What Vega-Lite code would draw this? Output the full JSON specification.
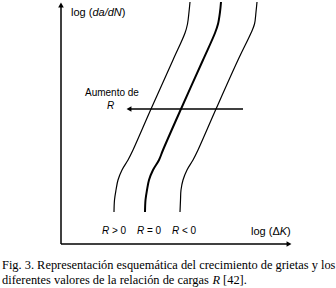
{
  "$schema": "https://vega.github.io/schema/vega-lite/v6.json",
  "width": 336,
  "height": 288,
  "autosize": {"type": "none"},
  "padding": 0,
  "background": "white",
  "config": {"view": {"stroke": null}},
  "datasets": {
    "curves": [
      {"curve": "R>0", "order": 1, "x": 190, "y": 2},
      {"curve": "R>0", "order": 2, "x": 189, "y": 12},
      {"curve": "R>0", "order": 3, "x": 187.5, "y": 24},
      {"curve": "R>0", "order": 4, "x": 185, "y": 33},
      {"curve": "R>0", "order": 5, "x": 173, "y": 60},
      {"curve": "R>0", "order": 6, "x": 151, "y": 109},
      {"curve": "R>0", "order": 7, "x": 133, "y": 150},
      {"curve": "R>0", "order": 8, "x": 128, "y": 160},
      {"curve": "R>0", "order": 9, "x": 122, "y": 170},
      {"curve": "R>0", "order": 10, "x": 118, "y": 180},
      {"curve": "R>0", "order": 11, "x": 116, "y": 190},
      {"curve": "R>0", "order": 12, "x": 114.5, "y": 200},
      {"curve": "R>0", "order": 13, "x": 114, "y": 212},
      {"curve": "R=0", "order": 1, "x": 221, "y": 2},
      {"curve": "R=0", "order": 2, "x": 220, "y": 12},
      {"curve": "R=0", "order": 3, "x": 218, "y": 24},
      {"curve": "R=0", "order": 4, "x": 215, "y": 33},
      {"curve": "R=0", "order": 5, "x": 203, "y": 60},
      {"curve": "R=0", "order": 6, "x": 181, "y": 109},
      {"curve": "R=0", "order": 7, "x": 163, "y": 150},
      {"curve": "R=0", "order": 8, "x": 159, "y": 160},
      {"curve": "R=0", "order": 9, "x": 153, "y": 170},
      {"curve": "R=0", "order": 10, "x": 149, "y": 180},
      {"curve": "R=0", "order": 11, "x": 147, "y": 190},
      {"curve": "R=0", "order": 12, "x": 145.5, "y": 200},
      {"curve": "R=0", "order": 13, "x": 145, "y": 212},
      {"curve": "R<0", "order": 1, "x": 257, "y": 2},
      {"curve": "R<0", "order": 2, "x": 256, "y": 12},
      {"curve": "R<0", "order": 3, "x": 254.5, "y": 24},
      {"curve": "R<0", "order": 4, "x": 251, "y": 33},
      {"curve": "R<0", "order": 5, "x": 238, "y": 60},
      {"curve": "R<0", "order": 6, "x": 216, "y": 109},
      {"curve": "R<0", "order": 7, "x": 198, "y": 150},
      {"curve": "R<0", "order": 8, "x": 193, "y": 160},
      {"curve": "R<0", "order": 9, "x": 187, "y": 170},
      {"curve": "R<0", "order": 10, "x": 183, "y": 180},
      {"curve": "R<0", "order": 11, "x": 181, "y": 190},
      {"curve": "R<0", "order": 12, "x": 180.5, "y": 200},
      {"curve": "R<0", "order": 13, "x": 180, "y": 212}
    ],
    "segments": [
      {"part": "yaxis", "x": 61, "y": 7, "x2": 61, "y2": 244},
      {"part": "xaxis", "x": 61, "y": 244, "x2": 287, "y2": 244},
      {"part": "arrow", "x": 243, "y": 109, "x2": 131, "y2": 109}
    ],
    "heads": [
      {"dir": "up", "x": 61, "y": 5},
      {"dir": "right", "x": 289, "y": 244},
      {"dir": "left", "x": 129, "y": 109}
    ],
    "labels": [
      {"role": "axis", "style": "normal", "text": "log (", "x": 71, "y": 13},
      {"role": "axis", "style": "italic", "text": "da/dN", "x": 92.4, "y": 13},
      {"role": "axis", "style": "normal", "text": ")", "x": 121.7, "y": 13},
      {"role": "axis", "style": "normal", "text": "log (Δ", "x": 251, "y": 232},
      {"role": "axis", "style": "italic", "text": "K", "x": 279.7, "y": 232},
      {"role": "axis", "style": "normal", "text": ")", "x": 287, "y": 232},
      {"role": "note", "style": "italic", "text": "R", "x": 102, "y": 231},
      {"role": "note", "style": "normal", "text": "> 0", "x": 112, "y": 231},
      {"role": "note", "style": "italic", "text": "R", "x": 137, "y": 231},
      {"role": "note", "style": "normal", "text": "= 0", "x": 147, "y": 231},
      {"role": "note", "style": "italic", "text": "R", "x": 172, "y": 231},
      {"role": "note", "style": "normal", "text": "< 0", "x": 182, "y": 231},
      {"role": "note", "style": "normal", "text": "Aumento de", "x": 85, "y": 93},
      {"role": "note", "style": "italic", "text": "R", "x": 107, "y": 106},
      {"role": "caption", "style": "normal", "text": "Fig. 3. Representación esquemática del crecimiento de grietas y los", "x": 2, "y": 269},
      {"role": "caption", "style": "normal", "text": "diferentes valores de la relación de cargas", "x": 2, "y": 284},
      {"role": "caption", "style": "italic", "text": "R", "x": 212.4, "y": 284},
      {"role": "caption", "style": "normal", "text": "[42].", "x": 223.1, "y": 284}
    ]
  },
  "encoding": {
    "x": {"field": "x", "type": "quantitative", "scale": {"domain": [0, 336], "nice": false, "zero": false}, "axis": null},
    "y": {"field": "y", "type": "quantitative", "scale": {"domain": [0, 288], "nice": false, "zero": false, "reverse": true}, "axis": null}
  },
  "layer": [
    {
      "data": {"name": "curves"},
      "transform": [{"filter": "datum.curve !== 'R=0'"}],
      "mark": {"type": "line", "interpolate": "catmull-rom", "color": "black", "strokeWidth": 1.2},
      "encoding": {
        "detail": {"field": "curve"},
        "order": {"field": "order", "type": "quantitative"}
      }
    },
    {
      "data": {"name": "curves"},
      "transform": [{"filter": "datum.curve === 'R=0'"}],
      "mark": {"type": "line", "interpolate": "catmull-rom", "color": "black", "strokeWidth": 2},
      "encoding": {
        "detail": {"field": "curve"},
        "order": {"field": "order", "type": "quantitative"}
      }
    },
    {
      "data": {"name": "segments"},
      "mark": {"type": "rule", "color": "black", "strokeWidth": 1.5},
      "encoding": {
        "x2": {"field": "x2"},
        "y2": {"field": "y2"}
      }
    },
    {
      "data": {"name": "heads"},
      "mark": {"type": "point", "filled": true, "color": "black", "opacity": 1, "size": 32},
      "encoding": {
        "shape": {"field": "dir", "type": "nominal", "scale": {"domain": ["up", "right", "left"], "range": ["triangle-up", "triangle-right", "triangle-left"]}, "legend": null}
      }
    },
    {
      "data": {"name": "labels"},
      "transform": [{"filter": "datum.role === 'axis' && datum.style === 'normal'"}],
      "mark": {"type": "text", "align": "left", "baseline": "middle", "font": "Liberation Sans", "fontSize": 11, "color": "black"},
      "encoding": {"text": {"field": "text"}}
    },
    {
      "data": {"name": "labels"},
      "transform": [{"filter": "datum.role === 'axis' && datum.style === 'italic'"}],
      "mark": {"type": "text", "align": "left", "baseline": "middle", "font": "Liberation Sans", "fontStyle": "italic", "fontSize": 11, "color": "black"},
      "encoding": {"text": {"field": "text"}}
    },
    {
      "data": {"name": "labels"},
      "transform": [{"filter": "datum.role === 'note' && datum.style === 'normal'"}],
      "mark": {"type": "text", "align": "left", "baseline": "middle", "font": "Liberation Sans", "fontSize": 10, "color": "black"},
      "encoding": {"text": {"field": "text"}}
    },
    {
      "data": {"name": "labels"},
      "transform": [{"filter": "datum.role === 'note' && datum.style === 'italic'"}],
      "mark": {"type": "text", "align": "left", "baseline": "middle", "font": "Liberation Sans", "fontStyle": "italic", "fontSize": 10, "color": "black"},
      "encoding": {"text": {"field": "text"}}
    },
    {
      "data": {"name": "labels"},
      "transform": [{"filter": "datum.role === 'caption' && datum.style === 'normal'"}],
      "mark": {"type": "text", "align": "left", "baseline": "alphabetic", "font": "Liberation Serif", "fontSize": 12.4, "color": "black"},
      "encoding": {"text": {"field": "text"}}
    },
    {
      "data": {"name": "labels"},
      "transform": [{"filter": "datum.role === 'caption' && datum.style === 'italic'"}],
      "mark": {"type": "text", "align": "left", "baseline": "alphabetic", "font": "Liberation Serif", "fontStyle": "italic", "fontSize": 12.4, "color": "black"},
      "encoding": {"text": {"field": "text"}}
    }
  ]
}
